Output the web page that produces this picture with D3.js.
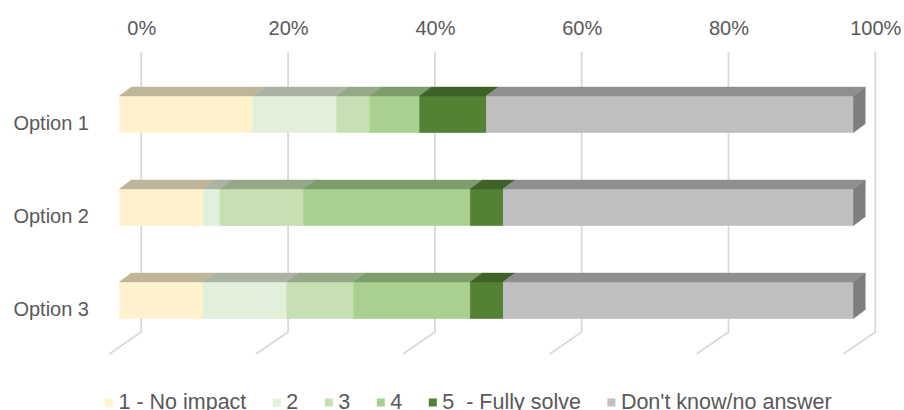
<!DOCTYPE html>
<html><head><meta charset="utf-8">
<script src="https://cdn.jsdelivr.net/npm/d3@7"></script>
<style>
html,body{margin:0;padding:0;background:#fff;}
svg{display:block;font-family:"Liberation Sans",Arial,sans-serif;}
</style></head><body>
<svg id="chart" width="904" height="410"></svg>
<script>
// Share of answers per option, in percent
const categories = ["Option 1", "Option 2", "Option 3"];
const seriesNames = ["1 - No impact", "2", "3", "4", "5  - Fully solve", "Don't know/no answer"];
const seriesColors = ["#FFF2CC", "#E2EFDA", "#C6E0B4", "#A9D08E", "#548235", "#BFBFBF"];
const noImpact   = [18.2, 11.4, 11.4];
const score2     = [11.4,  2.3, 11.4];
const score3     = [ 4.5, 11.4,  9.1];
const score4     = [ 6.8, 22.7, 15.9];
const fullySolve = [ 9.1,  4.5,  4.5];
const dontKnow   = [50.0, 47.7, 47.7];
const tickValues = [0, 20, 40, 60, 80, 100];

const seriesValues = [noImpact, score2, score3, score4, fullySolve, dontKnow];
const table = categories.map((c, i) => {
  const row = { category: c };
  seriesNames.forEach((s, j) => { row[s] = seriesValues[j][i]; });
  return row;
});
const stacked = d3.stack().keys(seriesNames)(table);

const svg = d3.select("#chart");
const textColor = "#595959";
const gridColor = "#D9D9D9";

// oblique projection: front plane of the bars, bar depth and wall offset
const x = d3.scaleLinear().domain([0, 100]).range([119.3, 853.3]);
const depth = { dx: 12, dy: -9 };
const wall = { dx: 22, top: 52, bottom: 332 };
const floorFront = { dx: -10, y: 354 };

const y = d3.scaleBand().domain(categories)
  .range([67.85, 346.85]).paddingInner(0.605).paddingOuter(0.3025);

const shade = (c, k) => {
  const r = d3.rgb(c);
  return d3.rgb(r.r * k, r.g * k, r.b * k).formatHex();
};

// back wall and floor gridlines
const grid = svg.append("g").attr("fill", "none").attr("stroke", gridColor).attr("stroke-width", 1.8);
grid.selectAll("path").data(tickValues).join("path")
  .attr("d", v => {
    const xb = x(v) + wall.dx;
    return `M${xb},${wall.top}L${xb},${wall.bottom}L${x(v) + floorFront.dx},${floorFront.y}`;
  });

// value axis labels along the top of the wall
const xWall = d3.scaleLinear().domain([0, 100]).range([x(0) + wall.dx, x(100) + wall.dx]);
const axis = svg.append("g").attr("transform", "translate(0,35)")
  .call(d3.axisTop(xWall).tickValues(tickValues).tickFormat(d => d + "%").tickSize(0).tickPadding(0));
axis.select(".domain").remove();
axis.selectAll("text").attr("font-size", 20).attr("fill", textColor)
  .attr("font-family", '"Liberation Sans", Arial, sans-serif');

// bars: front face + top face per segment, side face on the last one
const bars = svg.append("g");
stacked.forEach((layer, j) => {
  const col = seriesColors[j];
  const g = bars.append("g");
  layer.forEach((d, i) => {
    const cat = categories[i];
    const x0 = x(d[0]), x1 = x(d[1]);
    const yt = y(cat), yb = y(cat) + y.bandwidth();
    g.append("rect").attr("x", x0).attr("y", yt).attr("width", x1 - x0).attr("height", yb - yt)
      .attr("fill", col).attr("stroke", col).attr("stroke-width", 0.4);
    g.append("path")
      .attr("d", `M${x0},${yt}L${x1},${yt}L${x1 + depth.dx},${yt + depth.dy}L${x0 + depth.dx},${yt + depth.dy}Z`)
      .attr("fill", shade(col, 0.75)).attr("stroke", shade(col, 0.75)).attr("stroke-width", 0.4);
    if (j === stacked.length - 1) {
      g.append("path")
        .attr("d", `M${x1},${yt}L${x1 + depth.dx},${yt + depth.dy}L${x1 + depth.dx},${yb + depth.dy}L${x1},${yb}Z`)
        .attr("fill", shade(col, 0.66)).attr("stroke", shade(col, 0.66)).attr("stroke-width", 0.4);
    }
  });
});

// category labels
svg.append("g").selectAll("text").data(categories).join("text")
  .attr("x", 89).attr("y", d => y(d) + y.bandwidth() / 2 + 9).attr("dy", "0.35em")
  .attr("text-anchor", "end").attr("font-size", 20).attr("fill", textColor).text(d => d);

// legend
const legend = svg.append("g");
let lx = 105;
seriesNames.forEach((name, j) => {
  legend.append("rect").attr("x", lx).attr("y", 398.5).attr("width", 8).attr("height", 8)
    .attr("fill", seriesColors[j]);
  const t = legend.append("text").attr("x", lx + 13.5).attr("y", 409)
    .attr("font-size", 21.5).attr("fill", textColor).style("white-space", "pre").text(name);
  lx += 13.5 + t.node().getComputedTextLength() + 26.5;
});
</script>
</body></html>
